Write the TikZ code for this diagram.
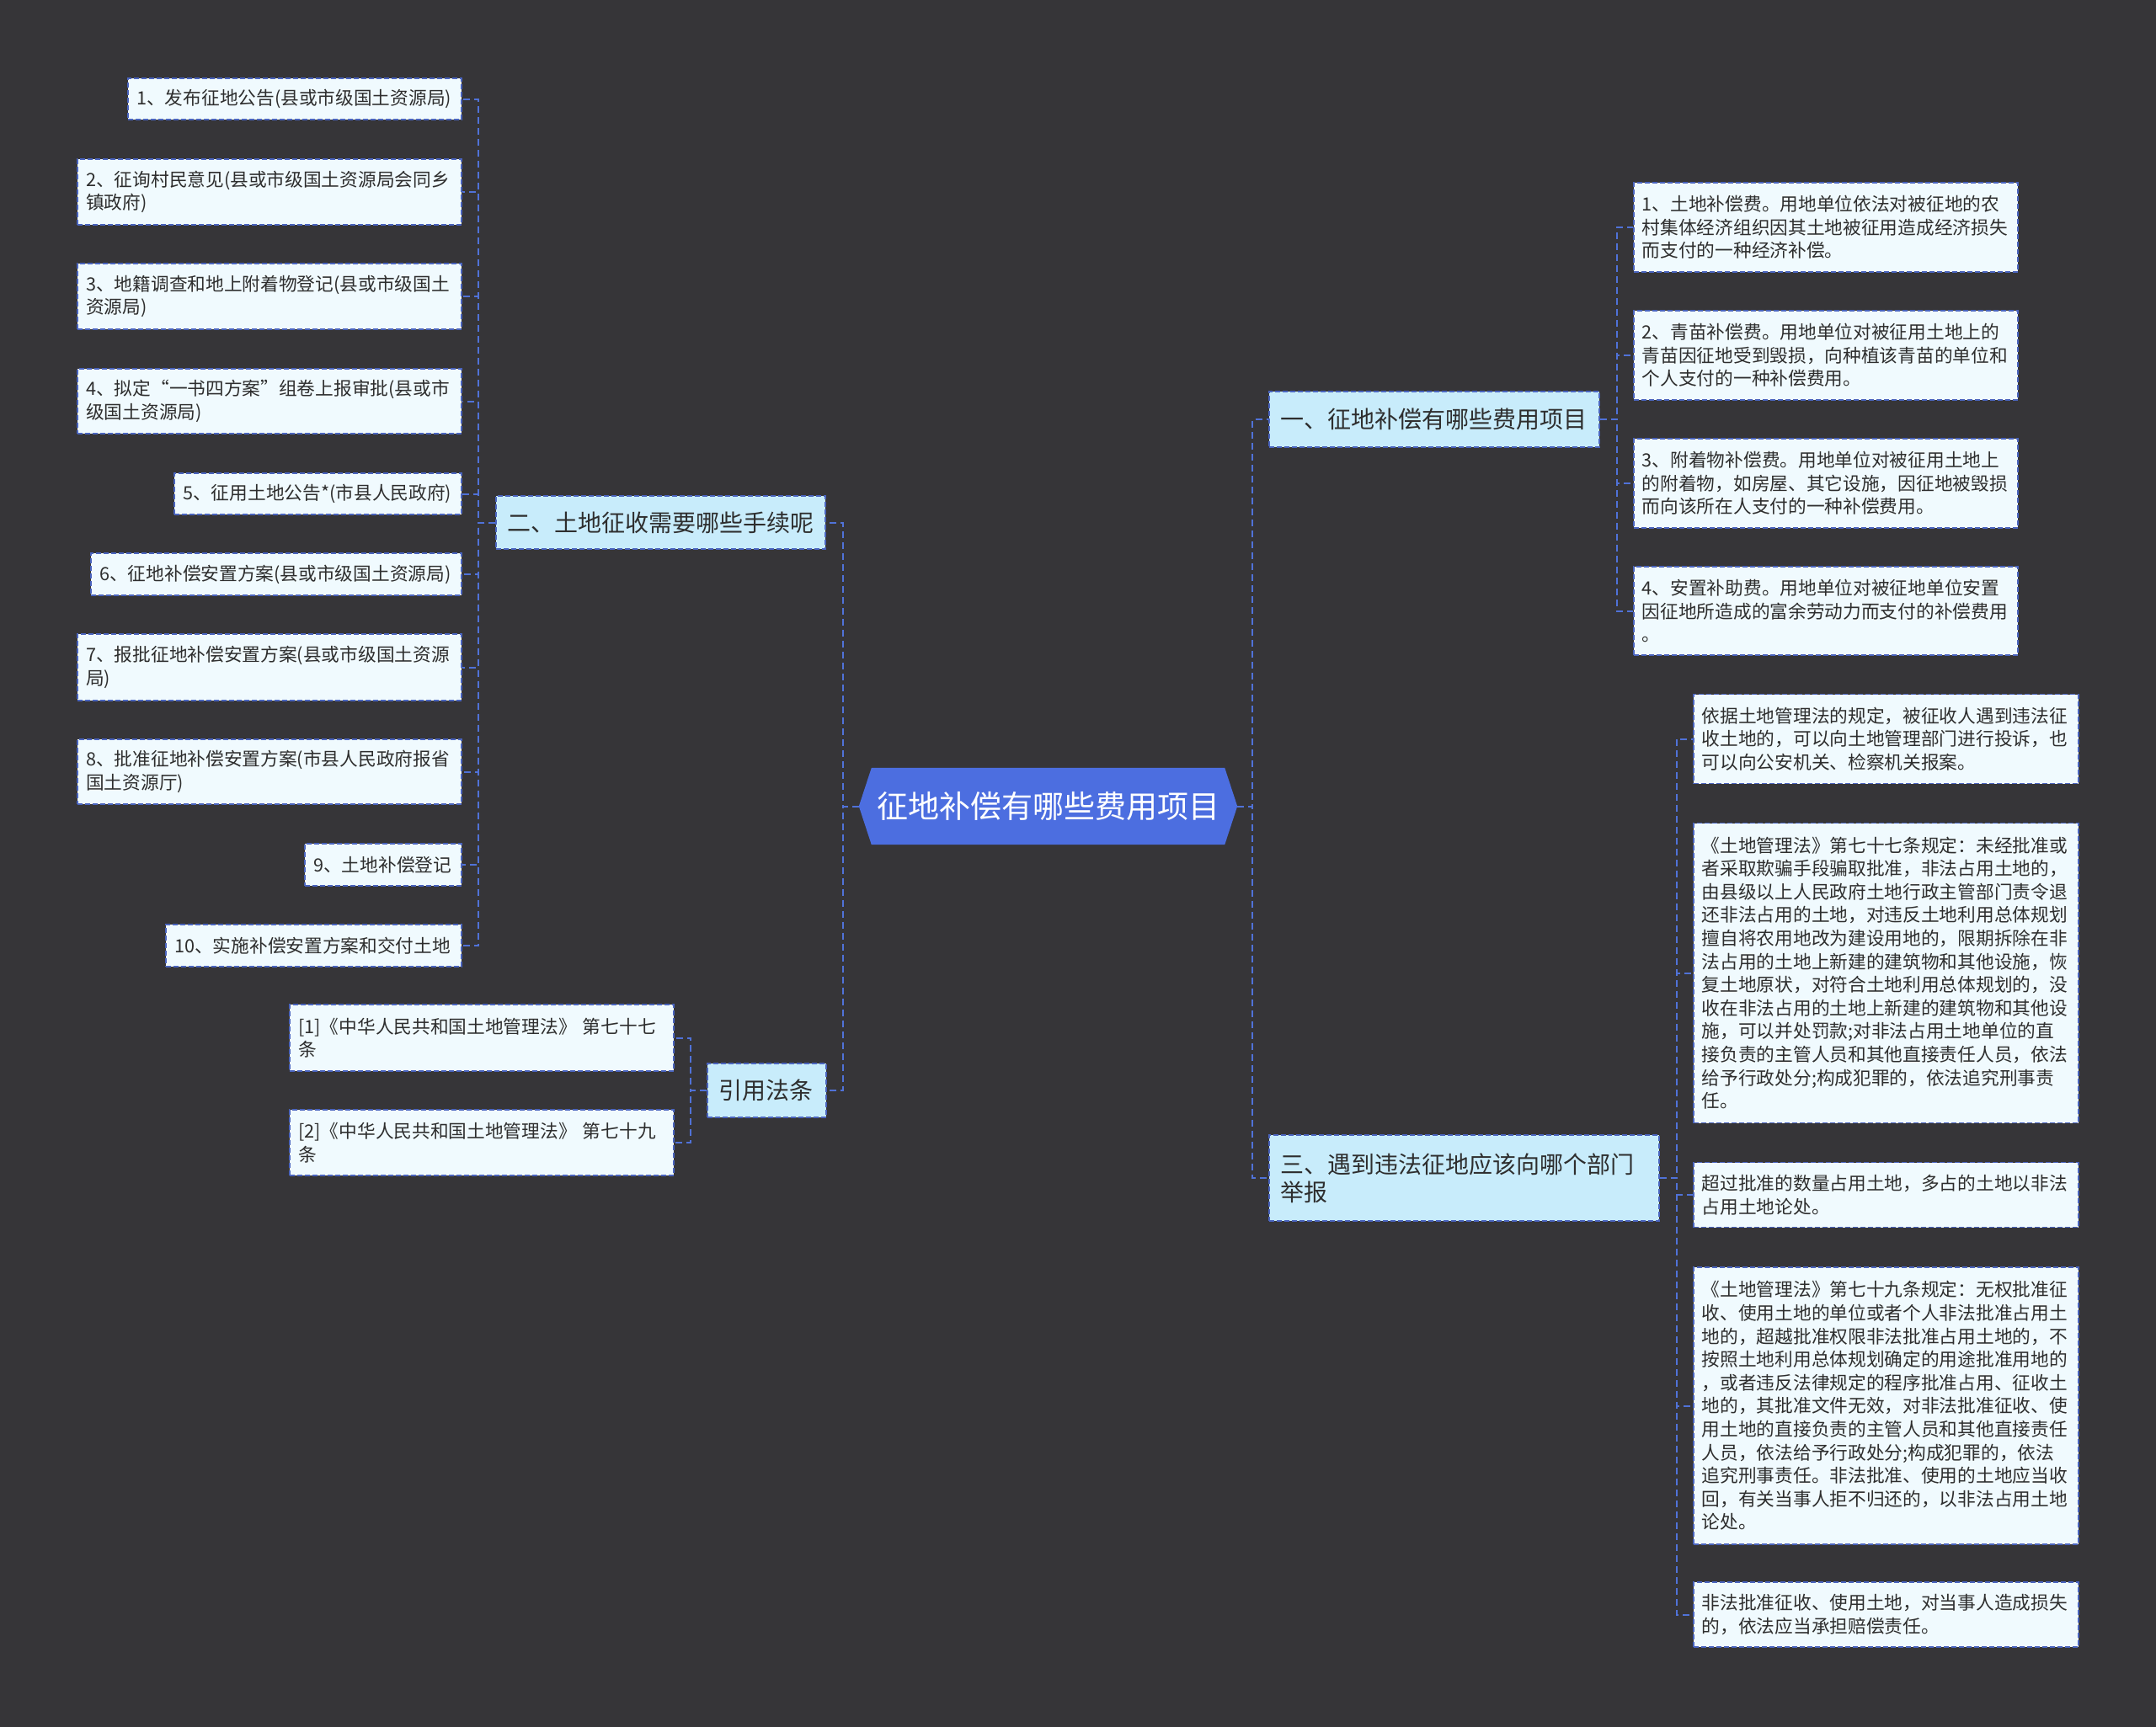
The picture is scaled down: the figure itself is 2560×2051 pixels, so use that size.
\documentclass[tikz,border=0pt]{standalone}
\usepackage{fontspec}
\setmainfont{Noto Sans CJK SC}
\usetikzlibrary{calc,backgrounds}
\definecolor{bgc}{HTML}{363538}
\definecolor{leaffill}{HTML}{F0FAFE}
\definecolor{branchfill}{HTML}{C8ECFB}
\definecolor{centerfill}{HTML}{4C6EE0}
\definecolor{edgec}{HTML}{5072D8}
\definecolor{boxline}{HTML}{4A64BE}
\definecolor{txt}{HTML}{2E2E2E}
\begin{document}
\begin{tikzpicture}[x=1pt,y=-1pt,
 leaf/.style={draw=boxline, fill=leaffill, line width=1.6pt, dash pattern=on 6pt off 3pt, text=txt,
   font=\fontsize{21.7pt}{27.6pt}\selectfont, align=left, inner xsep=10pt, inner ysep=0pt},
 branch/.style={leaf, fill=branchfill, font=\fontsize{28pt}{33pt}\selectfont, inner xsep=13pt},
 conn/.style={draw=edgec, line width=2pt, dash pattern=on 8pt off 5pt},
]
\begin{scope}[on background layer]
\fill[bgc] (0,0) rectangle (2560,2051);
\end{scope}
\useasboundingbox (0,0) rectangle (2560,2051);

% center
\node[minimum width=449pt, minimum height=91pt, inner sep=0pt, text=white,
  font=\fontsize{37pt}{40pt}\selectfont] (C) at (1244.5,957.5) {征地补偿有哪些费用项目};
\begin{scope}[on background layer]
\fill[centerfill] (C.west) -- ([xshift=15pt]C.north west) -- ([xshift=-15pt]C.north east) -- (C.east)
  -- ([xshift=-15pt]C.south east) -- ([xshift=15pt]C.south west) -- cycle;
\end{scope}

% branches
\node[branch, text width=365pt, minimum height=63pt] (B2) at (784.5,620.5) {二、土地征收需要哪些手续呢};
\node[branch, text width=115pt, minimum height=64pt] (Cite) at (910.5,1295) {引用法条};
\node[branch, text width=366pt, minimum height=66pt] (B1) at (1703,498) {一、征地补偿有哪些费用项目};
\node[branch, text width=437pt, minimum height=102pt] (B3) at (1738.5,1399) {三、遇到违法征地应该向哪个部门\\举报};

% left column
\node[leaf, anchor=east, text width=376pt, minimum height=49pt] (L1) at (549,117.5) {1、发布征地公告(县或市级国土资源局)};
\node[leaf, anchor=east, text width=436pt, minimum height=78pt] (L2) at (549,228) {2、征询村民意见(县或市级国土资源局会同乡\\镇政府)};
\node[leaf, anchor=east, text width=436pt, minimum height=78pt] (L3) at (549,352) {3、地籍调查和地上附着物登记(县或市级国土\\资源局)};
\node[leaf, anchor=east, text width=436pt, minimum height=77pt] (L4) at (549,476.5) {4、拟定“一书四方案”组卷上报审批(县或市\\级国土资源局)};
\node[leaf, anchor=east, text width=321pt, minimum height=49pt] (L5) at (549,586.5) {5、征用土地公告*(市县人民政府)};
\node[leaf, anchor=east, text width=420pt, minimum height=50pt] (L6) at (549,682) {6、征地补偿安置方案(县或市级国土资源局)};
\node[leaf, anchor=east, text width=436pt, minimum height=79pt] (L7) at (549,792.5) {7、报批征地补偿安置方案(县或市级国土资源\\局)};
\node[leaf, anchor=east, text width=436pt, minimum height=77pt] (L8) at (549,916.5) {8、批准征地补偿安置方案(市县人民政府报省\\国土资源厅)};
\node[leaf, anchor=east, text width=166pt, minimum height=50pt] (L9) at (549,1027) {9、土地补偿登记};
\node[leaf, anchor=east, text width=331pt, minimum height=50pt] (L10) at (549,1123) {10、实施补偿安置方案和交付土地};

% citations
\node[leaf, anchor=east, text width=436pt, minimum height=79pt] (K1) at (801,1232.5) {[1]《中华人民共和国土地管理法》 第七十七\\条};
\node[leaf, anchor=east, text width=436pt, minimum height=78pt] (K2) at (801,1357) {[2]《中华人民共和国土地管理法》 第七十九\\条};

% right upper
\node[leaf, anchor=west, text width=436pt, minimum height=106pt] (R1) at (1939,270) {1、土地补偿费。用地单位依法对被征地的农\\村集体经济组织因其土地被征用造成经济损失\\而支付的一种经济补偿。};
\node[leaf, anchor=west, text width=436pt, minimum height=106pt] (R2) at (1939,422) {2、青苗补偿费。用地单位对被征用土地上的\\青苗因征地受到毁损，向种植该青苗的单位和\\个人支付的一种补偿费用。};
\node[leaf, anchor=west, text width=436pt, minimum height=106pt] (R3) at (1939,574) {3、附着物补偿费。用地单位对被征用土地上\\的附着物，如房屋、其它设施，因征地被毁损\\而向该所在人支付的一种补偿费用。};
\node[leaf, anchor=west, text width=436pt, minimum height=105pt] (R4) at (1939,725.5) {4、安置补助费。用地单位对被征地单位安置\\因征地所造成的富余劳动力而支付的补偿费用\\。};

% right lower
\node[leaf, anchor=west, text width=437pt, minimum height=106pt] (A) at (2010,877.5) {依据土地管理法的规定，被征收人遇到违法征\\收土地的，可以向土地管理部门进行投诉，也\\可以向公安机关、检察机关报案。};
\node[leaf, anchor=west, text width=437pt, minimum height=356pt] (Bx) at (2010,1155.5) {《土地管理法》第七十七条规定：未经批准或\\者采取欺骗手段骗取批准，非法占用土地的，\\由县级以上人民政府土地行政主管部门责令退\\还非法占用的土地，对违反土地利用总体规划\\擅自将农用地改为建设用地的，限期拆除在非\\法占用的土地上新建的建筑物和其他设施，恢\\复土地原状，对符合土地利用总体规划的，没\\收在非法占用的土地上新建的建筑物和其他设\\施，可以并处罚款;对非法占用土地单位的直\\接负责的主管人员和其他直接责任人员，依法\\给予行政处分;构成犯罪的，依法追究刑事责\\任。};
\node[leaf, anchor=west, text width=437pt, minimum height=77pt] (Cx) at (2010,1419) {超过批准的数量占用土地，多占的土地以非法\\占用土地论处。};
\node[leaf, anchor=west, text width=437pt, minimum height=329pt] (D) at (2010,1669.5) {《土地管理法》第七十九条规定：无权批准征\\收、使用土地的单位或者个人非法批准占用土\\地的，超越批准权限非法批准占用土地的，不\\按照土地利用总体规划确定的用途批准用地的\\，或者违反法律规定的程序批准占用、征收土\\地的，其批准文件无效，对非法批准征收、使\\用土地的直接负责的主管人员和其他直接责任\\人员，依法给予行政处分;构成犯罪的，依法\\追究刑事责任。非法批准、使用的土地应当收\\回，有关当事人拒不归还的，以非法占用土地\\论处。};
\node[leaf, anchor=west, text width=437pt, minimum height=77pt] (E) at (2010,1917.5) {非法批准征收、使用土地，对当事人造成损失\\的，依法应当承担赔偿责任。};

% connectors
\draw[conn] (C.west) -- ++(-19,0) |- (B2.east);
\draw[conn] (C.west) -- ++(-19,0) |- (Cite.east);
\draw[conn] (C.east) -- ++(18,0) |- (B1.west);
\draw[conn] (C.east) -- ++(18,0) |- (B3.west);
\foreach \n in {L1,L2,L3,L4,L5,L6,L7,L8,L9,L10}{
  \draw[conn] (B2.west) -- ++(-20,0) |- (\n.east);
}
\foreach \n in {K1,K2}{
  \draw[conn] (Cite.west) -- ++(-19,0) |- (\n.east);
}
\foreach \n in {R1,R2,R3,R4}{
  \draw[conn] (B1.east) -- ++(20,0) |- (\n.west);
}
\foreach \n in {A,Bx,Cx,D,E}{
  \draw[conn] (B3.east) -- ++(20,0) |- (\n.west);
}
\end{tikzpicture}
\end{document}
